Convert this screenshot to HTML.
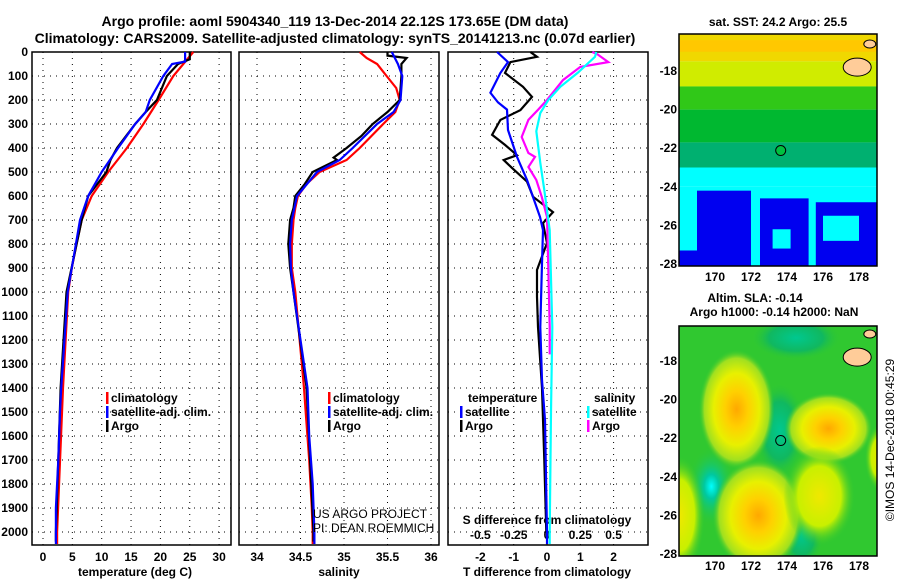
<!DOCTYPE html>
<html><head><meta charset="utf-8"><style>
body{margin:0;background:#fff}
svg{display:block;font-family:"Liberation Sans",sans-serif}
.t{font-weight:bold;font-size:12px}
</style></head><body>
<svg id="c" width="900" height="580" xmlns="http://www.w3.org/2000/svg">
<text x="335" y="26" text-anchor="middle" style="font-weight:bold;font-size:14px">Argo profile: aoml 5904340_119 13-Dec-2014 22.12S 173.65E (DM data)</text>
<text x="335" y="43" text-anchor="middle" style="font-weight:bold;font-size:14px">Climatology: CARS2009. Satellite-adjusted climatology: synTS_20141213.nc (0.07d earlier)</text>
<g id="maps"></g>
<g id="plots"></g>
<text transform="translate(894,440) rotate(-90)" text-anchor="middle" font-size="12">©IMOS 14-Dec-2018 00:45:29</text>
</svg>
<script>
// ---- data ----
const tDepthClim=[0,100,200,300,400,500,600,700,800,900,1000,1400,2000,2050];
const tClim=[25.6,22.2,19.7,17.1,14.3,11.1,8.3,6.6,5.7,4.9,4.3,3.4,2.4,2.4];
const tDepthSat=[0,40,50,100,200,250,300,400,500,600,700,800,900,1000,1400,1500,1700,1900,2000,2050];
const tSat=[24.2,24.2,22,20.5,18.2,17.5,15.7,12.8,10,7.7,6.3,5.6,4.9,4.2,3.1,2.9,2.6,2.2,2.2,2.2];
const tDepthArgo=[0,30,50,100,200,250,300,400,450,500,600,700,1000,1400,1700,2000,2040];
const tArgo=[25,25,23,21.1,19.4,17.5,15.7,12.6,11.5,10.8,7.7,6.6,4.0,3.0,2.6,2.2,2.2];

const sDepthClim=[0,25,50,100,150,200,250,300,400,450,500,550,600,650,700,800,900,1000,1400,1500,1700,1900,2000,2050];
const sClim=[35.18,35.26,35.38,35.49,35.6,35.64,35.59,35.45,35.18,35.03,34.72,34.57,34.47,34.44,34.42,34.4,34.4,34.44,34.54,34.56,34.6,34.63,34.64,34.64];
const sDepthSat=[0,50,100,200,250,300,400,450,500,600,700,800,900,1000,1400,1600,1800,2000,2050];
const sSat=[35.55,35.62,35.67,35.65,35.57,35.38,35.1,34.95,34.69,34.46,34.4,34.38,34.39,34.42,34.58,34.6,34.64,34.66,34.66];
const sDepthArgo=[0,15,25,50,100,200,250,300,350,400,440,450,500,550,600,650,700,800,900,1000,1400,1700,2000,2040];
const sArgo=[35.5,35.5,35.72,35.66,35.66,35.64,35.5,35.33,35.2,35.03,34.88,34.92,34.64,34.55,34.44,34.42,34.38,34.36,34.38,34.42,34.57,34.61,34.65,34.65];

const dDepthTSat=[0,42,87,170,210,240,325,437,533,687,742,880,1146,1367,1533,2000,2050];
const dTSat=[-1.5,-1.17,-1.4,-1.7,-1.47,-1.2,-1.17,-0.9,-0.6,-0.21,-0.12,-0.15,-0.2,-0.15,-0.06,0,0];
const dDepthTArgo=[0,20,42,87,145,187,242,283,345,387,430,450,483,540,603,667,713,796,908,1020,1146,1400,1700,2000];
const dTArgo=[-0.5,-0.3,-1.1,-1.26,-0.72,-0.45,-0.8,-1.4,-1.65,-1.26,-0.9,-1.3,-1.05,-0.6,-0.42,0.18,-0.12,0,-0.3,-0.3,-0.27,-0.15,-0.08,-0.02];
const dDepthSSat=[0,20,87,145,200,254,330,462,575,742,1146,1500,2000,2050];
const dSSat=[0.37,0.36,0.23,0.1,0.01,-0.05,-0.08,-0.05,-0.02,0.02,0.04,0.03,0.02,0.02];
const dDepthSArgo=[0,10,42,62,117,200,242,283,354,421,437,479,533,603,687,900,1146,1260];
const dSArgo=[0.34,0.38,0.46,0.25,0.12,0,-0.07,-0.14,-0.19,-0.14,-0.09,-0.14,-0.08,-0.04,0,0.01,0.02,0.02];

const depthTicks=[0,100,200,300,400,500,600,700,800,900,1000,1100,1200,1300,1400,1500,1600,1700,1800,1900,2000];
const tTicks=[0,5,10,15,20,25,30];
const sTicks=[34,34.5,35,35.5,36];
const sTickLabels=["34","34.5","35","35.5","36"];
const dTTicks=[-2,-1,0,1,2];
const dSTicks=[-0.5,-0.25,0,0.25,0.5];
const dSTickLabels=["-0.5","-0.25","0","0.25","0.5"];
const lonTicks=[170,172,174,176,178];
const latTicks=[-18,-20,-22,-24,-26,-28];

// ---- helpers ----
const NS="http://www.w3.org/2000/svg";
const plots=document.getElementById('plots'), maps=document.getElementById('maps');
function mk(tag,at,parent){const e=document.createElementNS(NS,tag);for(const k in at)e.setAttribute(k,at[k]);parent.appendChild(e);return e;}
const TOP=52,BOT=545;
const yD=d=>TOP+d*0.24;
const xT=v=>43+v*5.87;
const xS=v=>257+(v-34)*87;
const xDT=v=>547+v*33.3;
const xDS=v=>547+v*133.2;
function frame(x0,x1,name){
  const r=mk('rect',{x:x0,y:TOP,width:x1-x0,height:BOT-TOP,fill:'none',stroke:'#000','stroke-width':1.5},plots);
  
  
  depthTicks.forEach(d=>{const l=mk('line',{x1:x0,x2:x1,y1:yD(d),y2:yD(d),stroke:'#000','stroke-dasharray':'1,5'},plots);
    
    });
}
function vgrid(vals,fx,name){vals.forEach(v=>{const l=mk('line',{x1:fx(v),x2:fx(v),y1:TOP,y2:BOT,stroke:'#000','stroke-dasharray':'1,5'},plots);
  
  });}
function line(ds,vs,fx,col,name){
  const p=ds.map((d,i)=>fx(vs[i]).toFixed(1)+','+yD(d).toFixed(1)).join(' ');
  const e=mk('polyline',{points:p,fill:'none',stroke:col,'stroke-width':2.2},plots);
  
  
}
function txt(x,y,s,at,parent,name){const e=mk('text',Object.assign({x:x,y:y,class:'t'},at||{}),parent||plots);e.textContent=s;
  
  return e;}

// panels
frame(32,231,'temperature-panel');vgrid(tTicks,xT,'temperature-gridline');
frame(239,439,'salinity-panel');vgrid(sTicks,xS,'salinity-gridline');
frame(448,648,'difference-panel');vgrid(dTTicks,xDT,'t-diff-gridline');
depthTicks.forEach(d=>txt(28,yD(d)+4,String(d),{'text-anchor':'end'},plots,'depth-tick-label'));
tTicks.forEach(v=>txt(xT(v),561,String(v),{'text-anchor':'middle'},plots,'temperature-tick-label'));
sTicks.forEach((v,i)=>txt(xS(v),561,sTickLabels[i],{'text-anchor':'middle'},plots,'salinity-tick-label'));
dTTicks.forEach(v=>txt(xDT(v),561,String(v),{'text-anchor':'middle'},plots,'t-diff-tick-label'));
dSTicks.forEach((v,i)=>txt(xDS(v),539,dSTickLabels[i],{'text-anchor':'middle'},plots,'s-diff-tick-label'));
txt(135,576,'temperature (deg C)',{'text-anchor':'middle'},plots,'temperature-axis-title');
txt(339,576,'salinity',{'text-anchor':'middle'},plots,'salinity-axis-title');
txt(547,576,'T difference from climatology',{'text-anchor':'middle'},plots,'t-diff-axis-title');
txt(547,524,'S difference from climatology',{'text-anchor':'middle'},plots,'s-diff-axis-title');

// series
line(tDepthClim,tClim,xT,'#f00','temp-climatology-line');
line(tDepthArgo,tArgo,xT,'#000','temp-argo-line');
line(tDepthSat,tSat,xT,'#00f','temp-satellite-line');
line(sDepthClim,sClim,xS,'#f00','sal-climatology-line');
line(sDepthArgo,sArgo,xS,'#000','sal-argo-line');
line(sDepthSat,sSat,xS,'#00f','sal-satellite-line');
line(dDepthTArgo,dTArgo,xDT,'#000','tdiff-argo-line');
line(dDepthTSat,dTSat,xDT,'#00f','tdiff-satellite-line');
line(dDepthSArgo,dSArgo,xDS,'#f0f','sdiff-argo-line');
line(dDepthSSat,dSSat,xDS,'#0ff','sdiff-satellite-line');

// legends
function leg(x,y,col,s,name){const r=mk('rect',{x:x,y:y-10,width:2.5,height:12,fill:col},plots);
  
  
  txt(x+5,y,s,{},plots,name);}
[[106,'#f00','climatology'],[106,'#00f','satellite-adj. clim.'],[106,'#000','Argo']].forEach((a,i)=>leg(a[0],402+i*14,a[1],a[2],'temp-legend-entry'));
[[328,'#f00','climatology'],[328,'#00f','satellite-adj. clim.'],[328,'#000','Argo']].forEach((a,i)=>leg(a[0],402+i*14,a[1],a[2],'sal-legend-entry'));
txt(468,402,'temperature',{},plots,'diff-legend-temperature-header');
leg(460,416,'#00f','satellite','diff-legend-t-satellite');
leg(460,430,'#000','Argo','diff-legend-t-argo');
txt(594,402,'salinity',{},plots,'diff-legend-salinity-header');
leg(587,416,'#0ff','satellite','diff-legend-s-satellite');
leg(587,430,'#f0f','Argo','diff-legend-s-argo');
txt(313,518,'US ARGO PROJECT',{style:'font-weight:normal;font-size:12px'},plots,'credit-project');
txt(313,532,'PI: DEAN ROEMMICH',{style:'font-weight:normal;font-size:12px'},plots,'credit-pi');

// ---- maps ----
const mx=lon=>679+(lon-168)*18;
const y1=lat=>71+(-18-lat)*19.3;
const g1=mk('g',{},maps);
mk('defs',{},g1).innerHTML='<clipPath id="cp1"><rect x="679" y="34" width="198" height="232"/></clipPath><clipPath id="cp2"><rect x="679" y="326" width="198" height="230"/></clipPath>'+
'<radialGradient id="gy"><stop offset="0" stop-color="#ffa800"/><stop offset="0.3" stop-color="#ffd000"/><stop offset="0.6" stop-color="#e8f000"/><stop offset="0.85" stop-color="#a0e020"/><stop offset="1" stop-color="#30c830" stop-opacity="0"/></radialGradient>'+
'<radialGradient id="gyl"><stop offset="0" stop-color="#f0e800"/><stop offset="0.6" stop-color="#c8f000"/><stop offset="1" stop-color="#30c830" stop-opacity="0"/></radialGradient>'+
'<radialGradient id="gt"><stop offset="0" stop-color="#00c890"/><stop offset="0.6" stop-color="#10b860"/><stop offset="1" stop-color="#30c830" stop-opacity="0"/></radialGradient>'+
'<radialGradient id="gc"><stop offset="0" stop-color="#00ffff"/><stop offset="0.3" stop-color="#00c8a0"/><stop offset="1" stop-color="#30c830" stop-opacity="0"/></radialGradient>';
const m1=mk('g',{'clip-path':'url(#cp1)'},g1);
[[34,y1(-17.5),'#f0d800'],[y1(-17.5),y1(-18.8),'#d0ec00'],[y1(-18.8),y1(-20),'#30c818'],[y1(-20),y1(-21.7),'#00b830'],[y1(-21.7),y1(-23),'#00b070'],[y1(-23),y1(-24),'#00ffff'],[y1(-24),266,'#00ffff']].forEach(b=>mk('rect',{x:679,y:b[0],width:198,height:b[1]-b[0],fill:b[2]},m1));
mk('rect',{x:mx(169),y:y1(-24.2),width:mx(172)-mx(169),height:266-y1(-24.2),fill:'#0000f0'},m1);
mk('rect',{x:679,y:y1(-27.3),width:mx(172)-679,height:40,fill:'#0000f0'},m1);
mk('rect',{x:mx(172.5),y:y1(-24.6),width:mx(175.2)-mx(172.5),height:266-y1(-24.6),fill:'#0000f0'},m1);
mk('rect',{x:mx(173.2),y:y1(-26.2),width:mx(174.2)-mx(173.2),height:y1(-27.2)-y1(-26.2),fill:'#00ffff'},m1);
mk('rect',{x:mx(175.6),y:y1(-24.8),width:198,height:266-y1(-24.8),fill:'#0000f0'},m1);
mk('rect',{x:mx(176),y:y1(-25.5),width:mx(178)-mx(176),height:y1(-26.8)-y1(-25.5),fill:'#00ffff'},m1);
mk('rect',{x:679,y:y1(-16.4),width:198,height:y1(-17)-y1(-16.4),fill:'#ffc800'},m1);
mk('ellipse',{cx:mx(177.9),cy:y1(-17.8),rx:14,ry:9,fill:'#ffcc99',stroke:'#000'},m1);
mk('ellipse',{cx:mx(178.6),cy:y1(-16.6),rx:6,ry:4,fill:'#ffcc99',stroke:'#000'},m1);
mk('rect',{x:679,y:34,width:198,height:232,fill:'none',stroke:'#000','stroke-width':1.5},g1);
mk('circle',{cx:mx(173.65),cy:y1(-22.12),r:5,fill:'#00c040',stroke:'#000'},g1);
txt(778,26,'sat. SST: 24.2 Argo: 25.5',{'text-anchor':'middle'},g1,'sst-map-title');
// Map 2: SLA
const y2=lat=>361+(-18-lat)*19.3;
const g2=mk('g',{},maps);
const m2=mk('g',{'clip-path':'url(#cp2)'},g2);
mk('rect',{x:679,y:326,width:198,height:230,fill:'#30c830'},m2);
[[174.5,-16.8,45,22,'gt'],[173.6,-21.6,26,48,'gt'],[169.8,-24.5,24,40,'gc'],[174.8,-27,22,34,'gt'],[171.2,-20.5,38,60,'gy'],[176.3,-21.5,44,36,'gy'],[172.4,-26,46,56,'gy'],[175.8,-25,36,50,'gyl'],[168,-26,26,60,'gyl'],[179.2,-23,16,34,'gyl']].forEach(b=>mk('ellipse',{cx:mx(b[0]),cy:y2(b[1]),rx:b[2],ry:b[3],fill:'url(#'+b[4]+')'},m2));
mk('ellipse',{cx:mx(177.9),cy:y2(-17.8),rx:14,ry:9,fill:'#ffcc99',stroke:'#000'},m2);
mk('ellipse',{cx:mx(178.6),cy:y2(-16.6),rx:6,ry:4,fill:'#ffcc99',stroke:'#000'},m2);
mk('rect',{x:679,y:326,width:198,height:230,fill:'none',stroke:'#000','stroke-width':1.5},g2);
mk('circle',{cx:mx(173.65),cy:y2(-22.12),r:5,fill:'none',stroke:'#000'},g2);
txt(755,302,'Altim. SLA: -0.14',{'text-anchor':'middle'},g2,'sla-map-title');
txt(774,316,'Argo h1000: -0.14 h2000: NaN',{'text-anchor':'middle'},g2,'sla-map-subtitle');
[[y1,281,g1],[y2,570,g2]].forEach(m=>{
  lonTicks.forEach(v=>txt(mx(v),m[1],String(v),{'text-anchor':'middle'},m[2],'lon-tick-label'));
  latTicks.forEach(v=>txt(677,m[0](v)+4,String(v),{'text-anchor':'end'},m[2],'lat-tick-label'));
});
</script>
</body></html>
